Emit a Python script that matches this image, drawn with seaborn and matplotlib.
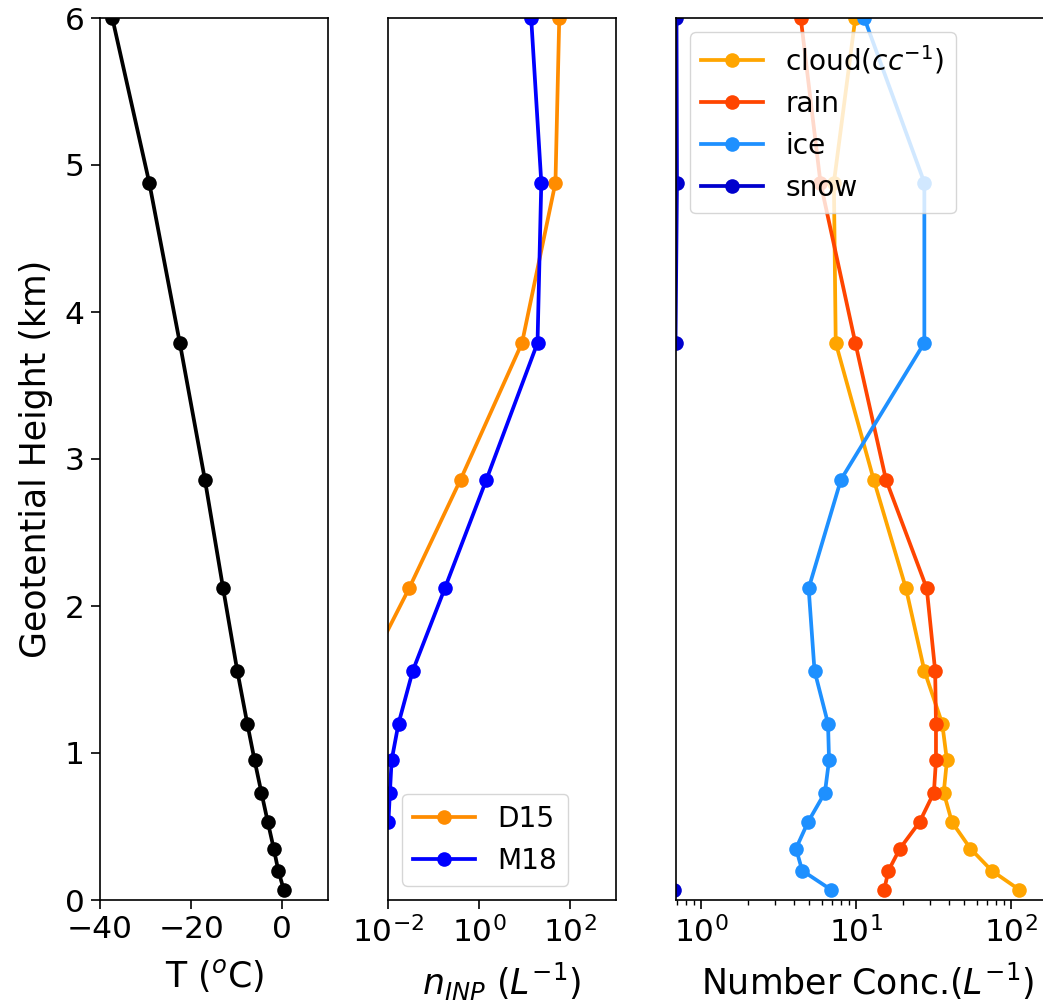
import numpy as np
import pandas as pd
import matplotlib
matplotlib.use("Agg")
import matplotlib.pyplot as plt
import seaborn as sns
from matplotlib.ticker import NullLocator, LogLocator

# ---------------- data ----------------
height = [6.0, 4.88, 3.79, 2.86, 2.12, 1.56, 1.20, 0.95, 0.73, 0.53, 0.35, 0.20, 0.07]
temp = [-37.3, -29.2, -22.5, -17.0, -13.0, -9.9, -7.7, -6.1, -4.6, -3.2, -1.9, -0.9, 0.3]

inp_d15 = [57, 47, 8.7, 0.39, 0.029, 0.0035, 0.001, 0.0005, 0.0003, 0.0002, 0.0001, 0.00007, 0.00005]
inp_m18 = [13.8, 23, 19, 1.44, 0.176, 0.035, 0.017, 0.012, 0.011, 0.0102, 0.005, 0.002, 0.001]

cloud = [9.9, 7.2, 7.4, 13.0, 21.0, 27.6, 36.0, 38.6, 36.8, 41.6, 54.7, 75.0, 113.0]
rain = [4.4, 5.9, 9.9, 15.6, 28.6, 32.4, 32.8, 32.8, 31.8, 25.7, 19.2, 16.2, 15.2]
ice = [11.3, 27.6, 27.6, 8.0, 4.95, 5.4, 6.6, 6.7, 6.3, 4.9, 4.1, 4.5, 6.9]
snow = [0.695, 0.70, 0.685, 0.01, 0.01, 0.01, 0.01, 0.01, 0.01, 0.01, 0.01, 0.01, 0.67]

inp_labels = ["D15", "M18"]
hydro_labels = [r"cloud($cc^{-1}$)", "rain", "ice", "snow"]

# ---------------- style ----------------
plt.rcParams.update({
    "font.family": ["DejaVu Sans"],
    "font.size": 22.5,
    "axes.linewidth": 1.2,
    "xtick.major.size": 6.3,
    "ytick.major.size": 6.3,
    "xtick.minor.size": 3.5,
    "xtick.major.pad": 4.8,
    "ytick.major.pad": 4.8,
    "xtick.major.width": 1.2,
    "ytick.major.width": 1.2,
    "xtick.minor.width": 1.0,
    "xtick.labelsize": 22.5,
    "ytick.labelsize": 22.5,
    "axes.labelsize": 25,
    "legend.fontsize": 20.2,
})

W, H = 1043, 1001
fig = plt.figure(figsize=(W / 100, H / 100), dpi=100)

def box(l, r, t=18, b=900):
    return [l / W, (H - b) / H, (r - l) / W, (b - t) / H]

ax1 = fig.add_axes(box(100, 328))
ax2 = fig.add_axes(box(388, 616))
ax3 = fig.add_axes(box(676, 1060))

lw = 2.7
ms = 10.5
common = dict(marker="o", sort=False, estimator=None, linewidth=lw,
              markersize=ms, markeredgewidth=0, orient="y")

# panel 1
df1 = pd.DataFrame({"T": temp, "h": height})
sns.lineplot(data=df1, x="T", y="h", color="black", ax=ax1, **common)
ax1.set_xlim(-40, 10)
ax1.set_ylim(0, 6)
ax1.set_xticks([-40, -20, 0])
ax1.set_yticks([0, 1, 2, 3, 4, 5, 6])
ax1.set_xlabel(r"T ($^o$C)", labelpad=9)
ax1.set_ylabel("Geotential Height (km)", labelpad=8)

# panel 2
inp_colors = ["darkorange", "blue"]
for lab, vals, col in zip(inp_labels, [inp_d15, inp_m18], inp_colors):
    d = pd.DataFrame({"n": vals, "h": height})
    sns.lineplot(data=d, x="n", y="h", color=col, label=lab, ax=ax2, **common)
ax2.set_xscale("log")
ax2.set_xlim(1e-2, 1e3)
ax2.set_ylim(0, 6)
ax2.set_xticks([1e-2, 1e0, 1e2])
ax2.xaxis.set_minor_locator(NullLocator())
ax2.tick_params(axis="y", left=False, labelleft=False)
ax2.set_ylabel("")
ax2.set_xlabel(r"$n_{INP}\ (L^{-1})$", labelpad=9)
ax2.legend(loc="lower left", handlelength=2.2)

# panel 3
hydro_colors = ["orange", "orangered", "dodgerblue", "mediumblue"]
for lab, vals, col in zip(hydro_labels, [cloud, rain, ice, snow], hydro_colors):
    d = pd.DataFrame({"n": vals, "h": height})
    sns.lineplot(data=d, x="n", y="h", color=col, label=lab, ax=ax3, **common)
ax3.set_xscale("log")
ax3.set_xlim(0.69, 207)
ax3.set_ylim(0, 6)
ax3.set_xticks([1e0, 1e1, 1e2])
ax3.xaxis.set_minor_locator(LogLocator(base=10, subs=np.arange(2, 10)))
ax3.tick_params(axis="y", left=False, labelleft=False)
ax3.set_ylabel("")
ax3.set_xlabel(r"Number Conc.($L^{-1}$)", labelpad=9)
ax3.legend(loc="upper left", handlelength=2.2)

fig.savefig("out.png", dpi=100)
